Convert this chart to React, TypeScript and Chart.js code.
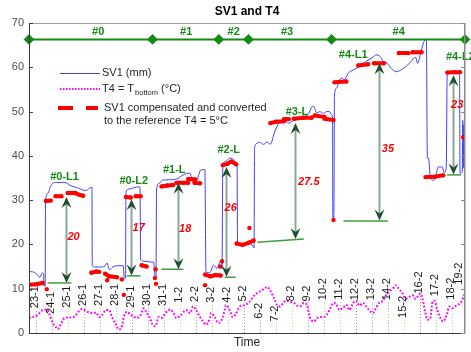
import React, { useEffect, useRef } from 'react';
import { Chart, registerables } from 'chart.js';

Chart.register(...registerables);

const FONT = '"Liberation Sans", Arial, Helvetica, sans-serif';

// Time axis in days after 23 January (0 = 23-1, 9 = 1-2)
const timeMin = -0.43;
const timeMax = 26.79;
const yMin = 0;
const yMax = 70;
const yStep = 10;

// SV1 (mm): [day, value]
const sv1: [number, number][] = [
  [-0.43, 29.3], [-0.42, 14.2], [-0.2, 13.8], [0.05, 13.3], [0.25, 12.6], [0.4, 13.6], [0.48, 13.4], [0.5, 10.6],
  [0.58, 10.6], [0.6, 29.8], [0.75, 31.5], [0.9, 33.0], [1.05, 33.8], [1.3, 34.0], [1.6, 34.0], [1.9, 33.9],
  [2.1, 33.4], [2.4, 33.0], [2.6, 32.8], [2.9, 32.3], [3.15, 32.2], [3.35, 32.7], [3.5, 32.9], [3.52, 15.2],
  [3.7, 14.9], [4.0, 14.9], [4.3, 15.1], [4.44, 15.8], [4.6, 14.3], [4.8, 14.9], [5.1, 15.2], [5.45, 15.2],
  [5.52, 12.4], [5.6, 12.4], [5.62, 31.8], [5.8, 32.5], [6.1, 32.8], [6.35, 33.0], [6.5, 32.9], [6.54, 16.5],
  [6.8, 16.2], [7.2, 16.0], [7.35, 16.0], [7.45, 12.6], [7.5, 12.6], [7.53, 32.3], [7.7, 33.8], [7.9, 34.5],
  [8.3, 34.6], [8.8, 34.8], [9.2, 35.7], [9.6, 36.1], [9.8, 34.2], [9.95, 33.5], [10.1, 35.0], [10.3, 36.8],
  [10.55, 36.9], [10.62, 13.8], [10.85, 13.6], [11.1, 15.3], [11.3, 14.6], [11.5, 16.0], [11.58, 16.0], [11.62, 14.5],
  [11.67, 37.9], [11.85, 38.8], [12.1, 39.5], [12.3, 39.3], [12.5, 38.5], [12.56, 37.8], [12.59, 20.3], [12.9, 20.2],
  [13.3, 20.4], [13.55, 19.6], [13.62, 19.2], [13.65, 41.8], [13.8, 42.8], [13.95, 43.1], [14.2, 42.6], [14.45, 43.1],
  [14.63, 42.6], [14.94, 45.8], [15.19, 47.4], [15.49, 48.1], [15.8, 47.4], [15.99, 47.8], [16.3, 48.3], [16.73, 48.8],
  [17.04, 49.6], [17.22, 51.0], [17.35, 51.2], [17.53, 49.7], [17.72, 50.0], [17.96, 49.6], [18.15, 50.0], [18.33, 50.0],
  [18.45, 49.3], [18.52, 49.0], [18.54, 25.5], [18.6, 25.8], [18.64, 53.5], [18.77, 55.3], [18.89, 56.4], [19.07, 57.6],
  [19.25, 57.2], [19.51, 58.7], [19.81, 59.4], [20.12, 60.0], [20.43, 60.9], [20.74, 61.6], [21.05, 62.3], [21.23, 62.8],
  [21.5, 62.4], [21.67, 61.4], [21.9, 61.0], [22.28, 59.4], [22.47, 59.0], [22.96, 59.8], [23.4, 61.2], [23.7, 62.3],
  [23.83, 60.9], [24.01, 63.0], [24.2, 65.5], [24.38, 66.4], [24.44, 39.5], [24.51, 39.5], [24.63, 35.2], [24.81, 34.5],
  [24.94, 35.0], [25.12, 37.5], [25.37, 37.5], [25.49, 36.2], [25.62, 37.5], [25.68, 58.7], [25.86, 59.0], [26.36, 59.0],
  [26.45, 58.5], [26.48, 36.1], [26.62, 36.3], [26.65, 48.0], [26.68, 37.2], [26.72, 47.0], [26.76, 38.0],
];

// T4 = T bottom (°C): [day, value]
const t4: [number, number][] = [
  [-0.43, 3.4], [-0.19, 3.6], [0.12, 4.1], [0.43, 5.2], [0.68, 5.3], [0.86, 4.1], [1.05, 2.3], [1.3, 1.1], [1.36, 0.9],
  [1.6, 2.3], [1.79, 3.4], [2.1, 3.5], [2.41, 3.7], [2.59, 4.5], [2.84, 5.4], [3.02, 5.2], [3.21, 4.8], [3.52, 4.5],
  [3.77, 4.6], [3.95, 3.6], [4.14, 4.1], [4.38, 5.2], [4.57, 5.2], [4.75, 3.6], [5.0, 1.9], [5.19, 0.8], [5.37, 1.5],
  [5.49, 3.6], [5.68, 4.8], [5.93, 4.1], [6.11, 3.7], [6.3, 3.4], [6.54, 4.1], [6.73, 5.6], [6.91, 4.6], [7.16, 3.0],
  [7.28, 1.9], [7.47, 1.5], [7.65, 3.6], [7.84, 3.4], [8.09, 4.5], [8.4, 5.3], [8.58, 4.5], [8.77, 3.4], [9.07, 4.1],
  [9.38, 5.2], [9.63, 4.5], [9.81, 6.0], [10.0, 5.2], [10.25, 3.6], [10.43, 2.6], [10.62, 1.9], [10.86, 3.4], [10.93, 4.5],
  [11.17, 3.6], [11.36, 2.3], [11.54, 2.6], [11.79, 5.2], [11.85, 6.3], [12.1, 5.2], [12.28, 3.6], [12.47, 4.2], [12.72, 6.0],
  [13.02, 6.3], [13.33, 7.0], [13.64, 8.5], [13.95, 9.3], [14.26, 10.0], [14.44, 10.4], [14.63, 9.6], [14.88, 7.7], [15.06, 6.3],
  [15.25, 6.0], [15.49, 7.0], [15.68, 7.3], [15.86, 7.0], [16.11, 6.8], [16.3, 6.2], [16.48, 6.0], [16.73, 6.8], [16.91, 6.4],
  [17.1, 3.6], [17.35, 2.6], [17.53, 3.3], [17.72, 3.6], [17.96, 3.6], [18.15, 4.1], [18.33, 5.2], [18.58, 6.8], [18.77, 6.4],
  [18.95, 5.2], [19.2, 5.8], [19.38, 6.4], [19.57, 5.2], [19.81, 6.8], [20.0, 7.3], [20.19, 6.2], [20.43, 6.8], [20.62, 6.0],
  [20.8, 5.2], [21.05, 4.5], [21.23, 5.6], [21.42, 6.8], [21.67, 7.3], [21.85, 8.5], [22.04, 9.3], [22.28, 10.0], [22.47, 10.8],
  [22.65, 10.0], [22.9, 8.9], [23.09, 7.7], [23.27, 8.1], [23.52, 8.5], [23.7, 7.7], [23.89, 8.5], [24.01, 8.9], [24.14, 7.7],
  [24.32, 4.5], [24.44, 3.0], [24.63, 3.4], [24.75, 6.8], [24.88, 7.3], [25.06, 5.2], [25.25, 3.4], [25.43, 2.6], [25.68, 4.5],
  [25.8, 6.0], [25.99, 5.6], [26.17, 6.0], [26.36, 6.4], [26.6, 7.3], [26.73, 8.5], [26.79, 9.0],
];

// SV1 compensated and converted to T4 = 5°C: [day, value], null = gap
const sv1Compensated: ([number, number] | null)[] = [
  [-0.43, 10.9], [0.0, 11.0], [0.43, 11.3], null,
  [0.68, 9.9], null,
  [0.62, 29.8], [0.93, 29.9], null,
  [1.23, 30.9], [1.6, 30.9], null,
  [1.98, 31.6], [2.45, 31.6], [2.72, 31.2], [2.95, 31.0], null,
  [3.46, 13.6], [3.77, 13.9], [3.95, 13.8], null,
  [4.32, 13.4], [4.57, 12.8], [5.06, 12.6], null,
  [4.45, 11.9], null,
  [5.37, 12.1], null,
  [5.49, 8.6], null,
  [5.62, 30.7], [5.93, 30.6], null,
  [6.23, 30.9], [6.54, 30.9], null,
  [6.6, 15.3], [6.91, 15.0], null,
  [7.43, 12.4], null,
  [7.47, 14.4], null,
  [7.5, 11.1], null,
  [7.84, 33.1], [8.2, 33.3], [8.58, 33.4], null,
  [8.77, 33.9], [9.2, 33.9], [9.51, 33.9], null,
  [9.51, 34.8], [9.94, 34.7], null,
  [9.9, 33.9], [10.25, 33.8], null,
  [10.56, 13.2], [10.9, 12.8], [11.2, 13.1], [11.54, 13.0], null,
  [10.56, 10.8], null,
  [11.5, 15.0], null,
  [11.62, 16.2], null,
  [11.67, 37.9], [11.95, 38.2], [12.2, 38.7], [12.5, 38.1], null,
  [12.53, 20.2], [12.9, 19.9], [13.3, 20.4], [13.6, 20.9], null,
  [13.33, 23.7], null,
  [14.63, 47.4], [15.0, 47.7], [15.49, 47.8], null,
  [15.49, 48.3], [15.8, 48.3], null,
  [16.11, 48.4], [16.7, 48.6], [17.22, 48.6], null,
  [17.41, 49.1], [18.02, 48.8], null,
  [18.02, 48.4], [18.58, 48.1], null,
  [18.58, 25.5], null,
  [18.64, 56.6], [19.38, 56.8], null,
  [20.12, 60.4], [20.74, 60.7], null,
  [21.11, 60.9], [21.73, 60.9], null,
  [22.65, 63.2], [23.27, 63.2], null,
  [23.52, 63.4], [24.08, 63.4], null,
  [24.32, 35.2], [24.9, 35.3], [25.43, 35.6], null,
  [25.68, 58.8], [26.1, 58.9], [26.48, 58.9], null,
  [26.67, 44.2],
];

// Test phases along the top
const phaseBounds = [-0.43, 7.28, 11.42, 13.27, 18.46, 26.79];
const phaseLevel = 66.3;
const phaseNames = ['#0', '#1', '#2', '#3', '#4'];
const phaseNameDays = [3.89, 9.38, 12.35, 15.68, 22.65];
const phaseNameLevel = 68.0;

// Date labels written inside the plot
const dateLabels = ['23-1', '24-1', '25-1', '26-1', '27-1', '28-1', '29-1', '30-1', '31-1', '1-2', '2-2', '3-2', '4-2', '5-2',
  '6-2', '7-2', '8-2', '9-2', '10-2', '11-2', '12-2', '13-2', '14-2', '15-2', '16-2', '17-2', '18-2', '19-2'];
const dateDays = dateLabels.map((_, i) => i);
const dateLabelLevels = [8.1, 6.8, 8.2, 8.6, 8.6, 8.6, 8.2, 8.6, 8.6, 8.6, 8.8, 8.6, 8.6, 8.9,
  5.0, 4.4, 8.9, 8.9, 9.9, 9.9, 9.9, 9.9, 9.9, 5.9, 11.4, 10.8, 10.0, 13.4];

// Load steps: label, arrow and settlement
const loadNames = ['#0-L1', '#0-L2', '#1-L', '#2-L', '#3-L', '#4-L1', '#4-L2'];
const loadNameDays = [1.79, 6.11, 8.64, 12.04, 16.3, 19.81, 26.5];
const loadNameLevels = [35.2, 34.3, 36.8, 41.3, 49.9, 62.8, 62.3];
const arrowDays = [1.91, 5.93, 8.89, 11.85, 16.17, 21.42, 26.05];
const arrowTops = [30.7, 30.2, 33.9, 37.5, 47.4, 60.9, 58.2];
const arrowBottoms = [11.3, 13.0, 14.4, 12.7, 21.2, 25.4, 35.8];
const settlements = ['20', '17', '18', '26', '27.5', '35', '23'];
const settlementDays = [2.35, 6.42, 9.32, 12.16, 17.04, 21.98, 26.3];
const settlementLevels = [21.7, 23.7, 23.5, 28.2, 34.0, 41.5, 51.5];
const baseStartDays = [0.74, 5.68, 7.84, 11.79, 13.83, 19.2, 25.68];
const baseEndDays = [2.22, 6.54, 9.2, 12.47, 16.73, 21.98, 26.54];
const baseStartLevels = [11.3, 12.9, 14.4, 12.6, 20.5, 25.3, 35.7];
const baseEndLevels = [11.3, 12.9, 14.4, 12.6, 21.2, 25.3, 35.7];

const BLUE = '#4040f8';
const MAGENTA = '#ff00ff';
const RED = '#ff0000';
const GREEN = 'rgb(22,138,22)';
const GUIDE_COLORS = ['rgba(0,114,189,0.55)', 'rgba(217,83,25,0.55)', 'rgba(237,177,32,0.6)', 'rgba(126,47,142,0.55)',
  'rgba(119,172,48,0.6)', 'rgba(77,190,238,0.6)', 'rgba(162,20,47,0.55)'];

const annotate = {
  id: 'annotate',
  beforeDatasetsDraw(chart: any) {
    const { ctx, chartArea: a, scales } = chart;
    const x = scales.x, y = scales.y;
    ctx.save();
    ctx.font = `11px ${FONT}`;
    ctx.lineWidth = 1;
    ctx.setLineDash([1, 2]);
    dateLabels.forEach((lab: string, i: number) => {
      const px = x.getPixelForValue(dateDays[i]);
      if (px > a.right) return;
      const cy = y.getPixelForValue(dateLabelLevels[i]);
      const w = ctx.measureText(lab).width;
      ctx.strokeStyle = GUIDE_COLORS[i % GUIDE_COLORS.length];
      ctx.beginPath();
      ctx.moveTo(Math.round(px) + 0.5, a.bottom);
      ctx.lineTo(Math.round(px) + 0.5, cy + w / 2 + 1);
      ctx.stroke();
    });
    ctx.restore();
  },
  afterDatasetsDraw(chart: any) {
    const { ctx, chartArea: a, scales } = chart;
    const x = scales.x, y = scales.y;
    ctx.save();

    // date labels (rotated)
    ctx.font = `11px ${FONT}`;
    ctx.fillStyle = '#1a1a1a';
    ctx.textAlign = 'center';
    ctx.textBaseline = 'middle';
    dateLabels.forEach((lab: string, i: number) => {
      const px = Math.min(x.getPixelForValue(dateDays[i]), a.right - 5);
      const cy = y.getPixelForValue(dateLabelLevels[i]);
      ctx.save();
      ctx.translate(px - 1, cy);
      ctx.rotate(-Math.PI / 2);
      ctx.fillText(lab, 0, 0);
      ctx.restore();
    });

    // baselines
    ctx.strokeStyle = 'rgb(60,160,60)';
    ctx.lineWidth = 1.5;
    baseStartDays.forEach((d: number, i: number) => {
      ctx.beginPath();
      ctx.moveTo(x.getPixelForValue(d), y.getPixelForValue(baseStartLevels[i]));
      ctx.lineTo(x.getPixelForValue(baseEndDays[i]), y.getPixelForValue(baseEndLevels[i]));
      ctx.stroke();
    });

    // double arrows
    const L = 11, W = 5, B = 4;
    const head = (px: number, tip: number, s: number) => {
      ctx.beginPath();
      ctx.moveTo(px, tip);
      ctx.lineTo(px - W, tip + s * L);
      ctx.lineTo(px, tip + s * (L - B));
      ctx.lineTo(px + W, tip + s * L);
      ctx.closePath();
      ctx.fill();
    };
    arrowDays.forEach((d: number, i: number) => {
      const px = Math.round(x.getPixelForValue(d)) + 0.5;
      const yt = y.getPixelForValue(arrowTops[i]);
      const yb = y.getPixelForValue(arrowBottoms[i]);
      ctx.strokeStyle = '#8da797';
      ctx.lineWidth = 2;
      ctx.beginPath();
      ctx.moveTo(px, yt + L - B);
      ctx.lineTo(px, yb - (L - B));
      ctx.stroke();
      ctx.fillStyle = '#1f4e31';
      head(px, yt, 1);
      head(px, yb, -1);
    });

    // settlement numbers
    ctx.font = `italic bold 11px ${FONT}`;
    ctx.fillStyle = RED;
    ctx.textAlign = 'center';
    ctx.textBaseline = 'middle';
    settlements.forEach((s: string, i: number) => {
      ctx.fillText(s, x.getPixelForValue(settlementDays[i]), y.getPixelForValue(settlementLevels[i]));
    });

    // load step names
    ctx.font = `bold 11px ${FONT}`;
    ctx.fillStyle = GREEN;
    loadNames.forEach((s: string, i: number) => {
      ctx.fillText(s, x.getPixelForValue(loadNameDays[i]), y.getPixelForValue(loadNameLevels[i]));
    });

    // phase names
    phaseNames.forEach((s: string, i: number) => {
      ctx.fillText(s, x.getPixelForValue(phaseNameDays[i]), y.getPixelForValue(phaseNameLevel));
    });

    // legend
    ctx.setLineDash([]);
    ctx.lineWidth = 1;
    ctx.strokeStyle = BLUE;
    ctx.beginPath(); ctx.moveTo(60, 73.5); ctx.lineTo(100, 73.5); ctx.stroke();
    ctx.strokeStyle = MAGENTA;
    ctx.lineWidth = 2;
    ctx.setLineDash([1.5, 1.5]);
    ctx.beginPath(); ctx.moveTo(60, 89); ctx.lineTo(100, 89); ctx.stroke();
    ctx.setLineDash([]);
    ctx.strokeStyle = RED;
    ctx.lineWidth = 4;
    ctx.beginPath(); ctx.moveTo(58, 108); ctx.lineTo(73, 108); ctx.moveTo(86, 108); ctx.lineTo(98, 108); ctx.stroke();

    ctx.fillStyle = '#262626';
    ctx.textAlign = 'left';
    ctx.textBaseline = 'middle';
    ctx.font = `11px ${FONT}`;
    ctx.fillText('SV1 (mm)', 102, 73);
    const p1 = 'T4 = T';
    ctx.fillText(p1, 102, 89);
    let cx = 102 + ctx.measureText(p1).width + 1;
    ctx.font = `7.5px ${FONT}`;
    ctx.fillText('bottom', cx, 93);
    cx += ctx.measureText('bottom').width;
    ctx.font = `11px ${FONT}`;
    ctx.fillText(' (°C)', cx, 89);
    ctx.fillText('SV1 compensated and converted', 104, 108);
    ctx.fillText('to the reference T4 = 5°C', 104, 121);

    ctx.restore();
  },
  afterDraw(chart: any) {
    const { ctx, chartArea: a, scales } = chart;
    const y = scales.y;
    ctx.save();
    // box
    ctx.lineWidth = 1;
    ctx.strokeStyle = '#a0a0a0';
    ctx.beginPath();
    ctx.moveTo(a.left, a.top + 0.5); ctx.lineTo(a.right, a.top + 0.5);
    ctx.stroke();
    ctx.strokeStyle = '#8a8a8a';
    ctx.lineWidth = 1.5;
    ctx.beginPath();
    ctx.moveTo(a.right - 0.25, a.top); ctx.lineTo(a.right - 0.25, a.bottom);
    ctx.stroke();
    ctx.strokeStyle = '#3c3c3c';
    ctx.lineWidth = 1;
    ctx.beginPath();
    ctx.moveTo(a.left + 0.5, a.top); ctx.lineTo(a.left + 0.5, a.bottom + 0.5);
    ctx.lineTo(a.right, a.bottom + 0.5);
    ctx.stroke();
    // inward ticks
    for (let v = yMin; v <= yMax; v += yStep) {
      const py = Math.round(y.getPixelForValue(v)) + 0.5;
      ctx.strokeStyle = '#3c3c3c';
      ctx.beginPath(); ctx.moveTo(a.left, py); ctx.lineTo(a.left + 4, py); ctx.stroke();
      ctx.strokeStyle = '#8a8a8a';
      ctx.beginPath(); ctx.moveTo(a.right - 4, py); ctx.lineTo(a.right, py); ctx.stroke();
    }
    // title & axis title
    ctx.fillStyle = '#000';
    ctx.textAlign = 'center';
    ctx.textBaseline = 'middle';
    ctx.font = `bold 12px ${FONT}`;
    ctx.fillText('SV1 and T4', (a.left + a.right) / 2, 12);
    ctx.fillStyle = '#262626';
    ctx.font = `12px ${FONT}`;
    ctx.fillText('Time', (a.left + a.right) / 2, 343);
    ctx.restore();
  },
};

export default function App() {
  const ref = useRef<HTMLCanvasElement | null>(null);
  useEffect(() => {
    if (!ref.current) return;
    const toXY = (p: [number, number]) => ({ x: p[0], y: p[1] });
    let lastX = timeMin;
    const compData = sv1Compensated.map((p) => {
      if (p === null) return { x: lastX, y: null as any };
      lastX = p[0];
      return toXY(p);
    });
    const chart = new Chart(ref.current, {
      type: 'line',
      data: {
        datasets: [
          {
            label: 'SV1 compensated and converted to the reference T4 = 5°C',
            data: compData,
            borderColor: RED,
            backgroundColor: RED,
            borderWidth: 4,
            pointRadius: 2.2,
            pointBorderWidth: 0,
            pointBackgroundColor: RED,
            spanGaps: false,
            tension: 0,
          },
          {
            label: 'phases',
            data: phaseBounds.map((d) => ({ x: d, y: phaseLevel })),
            borderColor: GREEN,
            backgroundColor: GREEN,
            borderWidth: 2,
            pointStyle: 'rectRot',
            pointRadius: 4,
            pointBackgroundColor: GREEN,
            pointBorderColor: GREEN,
            clip: false,
          },
          {
            label: 'SV1 (mm)',
            data: sv1.map(toXY),
            borderColor: BLUE,
            borderWidth: 1,
            pointRadius: 0,
            cubicInterpolationMode: 'monotone',
          },
          {
            label: 'T4',
            data: t4.map(toXY),
            borderColor: MAGENTA,
            borderWidth: 2,
            borderDash: [1.8, 1.8],
            pointRadius: 0,
            cubicInterpolationMode: 'monotone',
          },
        ] as any,
      },
      options: {
        responsive: false,
        animation: false,
        events: [],
        layout: { padding: { top: 23, right: 1, left: 0, bottom: 0 } },
        plugins: {
          legend: { display: false },
          title: { display: false },
          tooltip: { enabled: false },
        },
        scales: {
          x: {
            type: 'linear',
            min: timeMin,
            max: timeMax,
            ticks: { display: false },
            grid: { display: false, drawTicks: false },
            border: { display: false },
            afterFit: (s: any) => { s.height = 19; },
          },
          y: {
            min: yMin,
            max: yMax,
            ticks: { stepSize: yStep, color: '#4d4d4d', font: { size: 11, family: FONT }, padding: 5 },
            grid: { display: false, drawTicks: false },
            border: { display: false },
            afterFit: (s: any) => { s.width = 29; },
          },
        },
      } as any,
      plugins: [annotate],
    });
    return () => chart.destroy();
  }, []);
  return (
    <div style={{ position: 'fixed', left: 0, top: 0, width: 471, height: 352, background: '#fff' }}>
      <canvas ref={ref} width={471} height={352} style={{ display: 'block' }} />
    </div>
  );
}
